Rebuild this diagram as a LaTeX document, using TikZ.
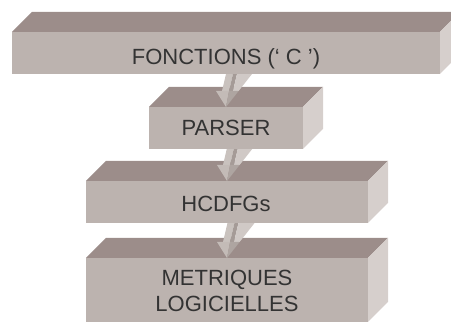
\documentclass[tikz,border=0pt]{standalone}
\usepackage{fontspec}
\setmainfont{Liberation Sans}
\definecolor{topc}{HTML}{9C8D8A}
\definecolor{frontc}{HTML}{BCB3AF}
\definecolor{sidec}{HTML}{D6CFCC}
\definecolor{txtc}{HTML}{333333}
\definecolor{arrfront}{HTML}{C9C2BE}
\definecolor{arrstripe}{HTML}{A59B97}
\definecolor{arrside}{HTML}{D0C9C6}
\definecolor{headleft}{HTML}{C3BBB7}
\definecolor{headright}{HTML}{AEA5A1}
\newcommand{\cubefaces}[1]{%
  \fill[topc] (#1.north west) -- ([shift={(20,-20)}]#1.north west) -- ([shift={(20,-20)}]#1.north east) -- (#1.north east) -- cycle;
  \fill[sidec] (#1.north east) -- ([shift={(20,-20)}]#1.north east) -- ([shift={(20,-20)}]#1.south east) -- (#1.south east) -- cycle;}
\newcommand{\arrowthreeD}[1]{%
  \begin{scope}[shift={(#1)}]
    \fill[arrfront] (1.65,-40) -- (8.65,-40) -- (3,-16) -- (-4,-16) -- cycle;
    \fill[arrstripe] (8.65,-40) -- (12.65,-40) -- (7,-16) -- (3,-16) -- cycle;
    \fill[arrside] (12.65,-40) -- (31.5,-40) -- (12.6,-16) -- (7,-16) -- cycle;
    \fill[headleft] (-10,-16) -- (3,-16) -- (0,0) -- cycle;
    \fill[headright] (3,-16) -- (12.6,-16) -- (0,0) -- cycle;
  \end{scope}}
\begin{document}
\begin{tikzpicture}[x=1pt,y=-1pt,
  face/.style={draw=none, fill=frontc, inner sep=0pt, outer sep=0pt, minimum height=42pt},
  lbl/.style={text=txtc, font=\fontsize{22}{24}\selectfont, inner sep=0pt, anchor=base}]
\useasboundingbox (0,0) rectangle (451,323);
\clip (0,0) rectangle (451,323);
% box 4
\node[face, minimum width=282pt, minimum height=64pt] (f4) at (227,290) {};
\cubefaces{f4}
\node[lbl] (t4a) at (227,286) {METRIQUES};
\node[lbl] (t4b) at (227,311.5) {LOGICIELLES};
\arrowthreeD{f4.north}
% box 3
\node[face, minimum width=282pt] (f3) at (227,202) {};
\cubefaces{f3}
\node[lbl] (t3) at (226,211.7) {HCDFGs};
\arrowthreeD{f3.north}
% box 2
\node[face, minimum width=154pt] (f2) at (226,128) {};
\cubefaces{f2}
\node[lbl] (t2) at (226,136) {PARSER};
\arrowthreeD{f2.north}
% box 1
\node[face, minimum width=428pt] (f1) at (226,53) {};
\cubefaces{f1}
\node[lbl] (t1) at (226,64.3) {FONCTIONS (‘ C ’)};
\end{tikzpicture}
\end{document}
